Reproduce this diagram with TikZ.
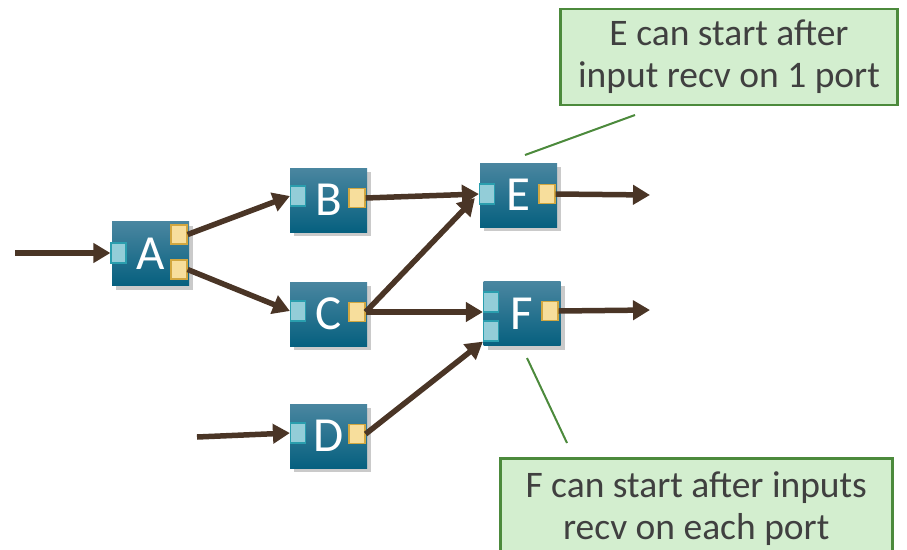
\documentclass[tikz,border=0pt]{standalone}
\usepackage{fontspec}
\setmainfont{Carlito}
\usetikzlibrary{arrows.meta,shadows,calc}

\definecolor{boxtop}{HTML}{4A86A0}
\definecolor{boxbot}{HTML}{06607F}
\definecolor{inport}{HTML}{93CDD8}
\definecolor{inportline}{HTML}{2A9EAE}
\definecolor{outport}{HTML}{F7DE9C}
\definecolor{outportline}{HTML}{D2A740}
\definecolor{flow}{HTML}{4A3526}
\definecolor{notefill}{HTML}{D3EECF}
\definecolor{noteline}{HTML}{4C8A3C}

\tikzset{
  task/.style={minimum width=77pt, minimum height=64pt, inner sep=0pt,
    top color=boxtop, bottom color=boxbot, text=white,
    font=\fontsize{49}{49}\selectfont,
    drop shadow={shadow xshift=4pt, shadow yshift=-4pt, opacity=0.35, fill=black!60}},
  inp/.style={minimum width=15pt, minimum height=20pt, inner sep=0pt,
    fill=inport, draw=inportline, line width=1.2pt},
  outp/.style={minimum width=16pt, minimum height=19pt, inner sep=0pt,
    fill=outport, draw=outportline, line width=1.2pt},
  flowarrow/.style={draw=flow, line width=5.5pt, -{Triangle[length=17pt,width=19pt]}},
  note/.style={fill=notefill, draw=noteline, line width=2.5pt, align=center,
    text=black!75, font=\fontsize{37.5}{42}\selectfont, inner sep=0pt},
  noteleader/.style={draw=noteline, line width=2pt}
}

\begin{document}
\begin{tikzpicture}[x=1pt,y=-1pt]
\useasboundingbox (0,0) rectangle (907,549);

% task boxes
\node[task] (A) at (150.5,253.5) {A};
\node[task] (B) at (328.5,200) {B};
\node[task] (C) at (328.5,314) {C};
\node[task] (D) at (328.5,436) {D};
\node[task] (E) at (518.5,195) {E};
\node[task] (F) at (522,313.5) {F};

% ports
\node[inp]  (Ai)  at (118.5,253) {};
\node[outp] (Ao1) at (179,234.5) {};
\node[outp] (Ao2) at (179,269.5) {};
\node[inp]  (Bi)  at (298,196) {};
\node[outp] (Bo)  at (357,198) {};
\node[inp]  (Ci)  at (298,311) {};
\node[outp] (Co)  at (357,312) {};
\node[inp]  (Di)  at (298,433) {};
\node[outp] (Do)  at (357,434) {};
\node[inp]  (Ei)  at (487,194) {};
\node[outp] (Eo)  at (547,194) {};
\node[inp]  (Fi1) at (491,302) {};
\node[inp]  (Fi2) at (491,331) {};
\node[outp] (Fo)  at (550,311) {};

% free ends of the flows
\coordinate (inA) at (15,253);
\coordinate (inD) at (197,437);
\coordinate (outE) at (650,195);
\coordinate (outF) at (650,310);

% flows
\draw[flowarrow] (inA) -- (Ai.west);
\draw[flowarrow] (Ao1.east) -- (Bi.west);
\draw[flowarrow] (Ao2.east) -- (Ci.west);
\draw[flowarrow] (Bo.east) -- (Ei.west);
\draw[flowarrow] (Co.east) -- ($(Ei.west)+(-4,4)$);
\draw[flowarrow] (Co.east) -- (Fi1.west |- Co.east);
\draw[flowarrow] (Do.east) -- (Fi2.south west);
\draw[flowarrow] (inD) -- (Di.west);
\draw[flowarrow] (Eo.east) -- (outE);
\draw[flowarrow] (Fo.east) -- (outF);

% notes
\node[note, minimum width=337pt, minimum height=96pt] (nE) at (729,57) {E can start after\\input recv on 1 port};
\node[note, minimum width=392pt, minimum height=100pt, anchor=north west] (nF) at (499,457) {F can start after inputs\\recv on each port};

\coordinate (lE1) at (635,115);
\coordinate (lE2) at (525,155);
\coordinate (lF1) at (527,358);
\coordinate (lF2) at (567,443);
\draw[noteleader] (lE1) -- (lE2);
\draw[noteleader] (lF1) -- (lF2);
\end{tikzpicture}
\end{document}
